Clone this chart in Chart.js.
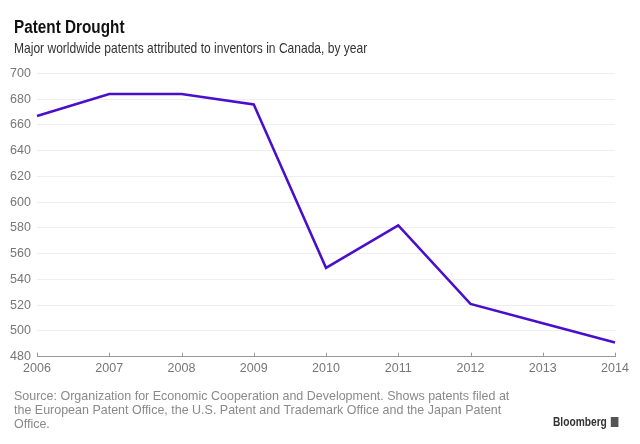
<!DOCTYPE html>
<html>
<head>
<meta charset="utf-8">
<script src="https://cdn.jsdelivr.net/npm/chart.js@4"></script>
<style>
  html, body { margin: 0; padding: 0; background: #fff; }
  #wrap { position: relative; width: 640px; height: 444px; overflow: hidden; font-family: 'Liberation Sans', Arial, sans-serif; }
  #chart { position: absolute; left: 0; top: 0; }
  .txt { position: absolute; white-space: nowrap; transform-origin: 0 0; }
  .title { left: 14px; top: 17px; font-size: 18px; font-weight: bold; color: #111; transform: scaleX(0.85); }
  .subtitle { left: 14px; top: 40px; font-size: 14.5px; color: #333; transform: scaleX(0.83); }
  .source { left: 14px; top: 389px; font-size: 13px; line-height: 14px; color: #8a8a8a; transform: scaleX(0.96); }
  .brand { left: 553px; top: 415px; font-size: 12px; font-weight: bold; color: #333; transform: scaleX(0.85); }
  .brand i { display: inline-block; width: 9px; height: 10px; background: #555; margin-left: 5px; vertical-align: -1px; }
</style>
</head>
<body>
<div id="wrap">
  <canvas id="chart" width="640" height="444"></canvas>
  <div class="txt title">Patent Drought</div>
  <div class="txt subtitle">Major worldwide patents attributed to inventors in Canada, by year</div>
  <div class="txt source">Source: Organization for Economic Cooperation and Development. Shows patents filed at<br>the European Patent Office, the U.S. Patent and Trademark Office and the Japan Patent<br>Office.</div>
  <div class="txt brand">Bloomberg<i></i></div>
</div>
<script>
'use strict';

// ─── Data ──────────────────────────────────────────────────────────────────────
const years   = ['2006', '2007', '2008', '2009', '2010', '2011', '2012', '2013', '2014'];
const patents = [667, 684, 684, 676, 549, 582, 521, 506, 491];
const yTicks  = { min: 480, max: 700, step: 20 };

const FONT = "'Liberation Sans', Arial, sans-serif";

// small upward ticks on the x axis
const upTicks = {
  id: 'upTicks',
  afterDatasetsDraw(chart) {
    const { ctx, scales: { x }, chartArea } = chart;
    ctx.save();
    ctx.strokeStyle = '#999';
    ctx.lineWidth = 1;
    x.ticks.forEach((t, i) => {
      const px = Math.round(x.getPixelForTick(i)) + 0.5;
      ctx.beginPath();
      ctx.moveTo(px, chartArea.bottom - 4);
      ctx.lineTo(px, chartArea.bottom);
      ctx.stroke();
    });
    ctx.restore();
  }
};

new Chart(document.getElementById('chart'), {
  type: 'line',
  data: {
    labels: years,
    datasets: [{
      data: patents,
      borderColor: '#4a0fcc',
      borderWidth: 2.5,
      pointRadius: 0,
      tension: 0,
      fill: false,
    }]
  },
  options: {
    responsive: false,
    animation: false,
    layout: { padding: { left: 10, right: 25, top: 73.5, bottom: 67.3 } },
    plugins: { legend: { display: false }, tooltip: { enabled: false } },
    scales: {
      x: {
        offset: false,
        grid: { display: false, drawTicks: false },
        border: { display: true, color: '#999', width: 1 },
        ticks: { color: '#777', font: { family: FONT, size: 12.5 }, padding: 4, maxRotation: 0 },
        afterFit(scale) { scale.height = 20; }
      },
      y: {
        min: yTicks.min,
        max: yTicks.max,
        grid: { color: '#eeeeee', drawTicks: false },
        border: { display: false },
        ticks: { stepSize: yTicks.step, color: '#777', font: { family: FONT, size: 12.5 }, crossAlign: 'far', padding: 0 },
        afterFit(scale) { scale.width = 27; }
      }
    }
  },
  plugins: [upTicks]
});
</script>
</body>
</html>
